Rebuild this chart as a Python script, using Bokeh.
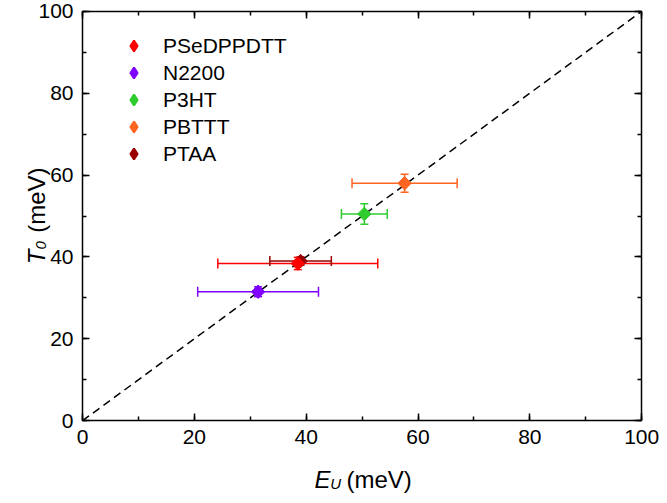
import math
from bokeh.plotting import figure
from bokeh.models import (Range1d, LinearAxis, SingleIntervalTicker, Whisker, TeeHead,
                          ColumnDataSource, Legend, LegendItem, CustomJSTickFormatter, Label)
from bokeh.embed import file_html
from bokeh.resources import INLINE

# ---- data ----
names = ["PSeDPPDTT", "N2200", "P3HT", "PBTTT", "PTAA"]
eu = [38.5, 31.4, 50.4, 57.6, 39.0]
eu_err = [14.3, 10.8, 4.1, 9.4, 5.5]
t0 = [38.4, 31.5, 50.5, 58.0, 39.0]
t0_err = [1.5, 1.2, 2.5, 2.2, 1.0]
colors = ["#FF0000", "#7F00FF", "#2ECC2E", "#FF6420", "#990000"]
x_limits = [0, 100]
y_limits = [0, 100]
tick_step = 20

FONT = "Liberation Sans"

# ---- layout (pixels) ----
CW, CH = 659, 495                       # canvas
FL, FR, FT, FB = 82.0, 641.2, 10.8, 420.2   # where the 0..100 box sits
sx = (FR - FL) / (x_limits[1] - x_limits[0])
sy = (FB - FT) / (y_limits[1] - y_limits[0])
x_range = Range1d(x_limits[0] - FL / sx, x_limits[1] + (CW - FR) / sx)
y_range = Range1d(y_limits[0] - (CH - FB) / sy, y_limits[1] + FT / sy)

p = figure(width=CW, height=CH, x_range=x_range, y_range=y_range,
           output_backend="svg", toolbar_location=None,
           x_axis_location=None, y_axis_location=None, min_border=0)
p.grid.visible = False
p.outline_line_color = None
p.background_fill_color = "white"
p.border_fill_color = "white"

blank = CustomJSTickFormatter(code="return ''")
axes = [
    (LinearAxis(fixed_location=y_limits[0], bounds=tuple(x_limits)), "below"),
    (LinearAxis(fixed_location=x_limits[0], bounds=tuple(y_limits)), "left"),
    (LinearAxis(fixed_location=y_limits[1], bounds=tuple(x_limits), formatter=blank), "above"),
    (LinearAxis(fixed_location=x_limits[1], bounds=tuple(y_limits), formatter=blank), "right"),
]
for ax, side in axes:
    ax.ticker = SingleIntervalTicker(interval=tick_step, num_minor_ticks=2)
    ax.major_tick_in = 7
    ax.major_tick_out = 0
    ax.minor_tick_in = 4
    ax.minor_tick_out = 0
    ax.axis_line_width = 1.5
    ax.axis_line_color = "black"
    ax.major_tick_line_width = 1.5
    ax.minor_tick_line_width = 1.5
    ax.major_tick_line_color = "black"
    ax.minor_tick_line_color = "black"
    ax.major_label_text_font = FONT
    ax.major_label_text_font_size = "21px"
    ax.major_label_text_color = "black"
    ax.major_label_standoff = 9
    p.add_layout(ax, side)

# diagonal reference line y = x
p.line(x=x_limits, y=y_limits, line_color="black", line_width=1.5, line_dash="8 5")

# error bars
for i in range(len(names)):
    src = ColumnDataSource(dict(base=[t0[i]], lower=[eu[i] - eu_err[i]], upper=[eu[i] + eu_err[i]]))
    p.add_layout(Whisker(source=src, base="base", lower="lower", upper="upper", dimension="width",
                         line_color=colors[i], line_width=1.5,
                         upper_head=TeeHead(size=10, line_color=colors[i], line_width=1.5),
                         lower_head=TeeHead(size=10, line_color=colors[i], line_width=1.5)))
    src2 = ColumnDataSource(dict(base=[eu[i]], lower=[t0[i] - t0_err[i]], upper=[t0[i] + t0_err[i]]))
    p.add_layout(Whisker(source=src2, base="base", lower="lower", upper="upper", dimension="height",
                         line_color=colors[i], line_width=1.5,
                         upper_head=TeeHead(size=8, line_color=colors[i], line_width=1.5),
                         lower_head=TeeHead(size=8, line_color=colors[i], line_width=1.5)))

# markers (red drawn last so it sits on top); legend uses diamond-shaped twins
legend_r = {}
for i in [4, 1, 2, 3, 0]:
    p.scatter(x=[eu[i]], y=[t0[i]], marker="square", angle=math.pi / 4, size=9.5,
              fill_color=colors[i], line_color=colors[i], line_width=1)
    legend_r[i] = p.scatter(x=[eu[i]], y=[t0[i]], marker="diamond", size=12,
                            fill_color=colors[i], line_color=colors[i], line_width=2,
                            visible=False)

legend = Legend(items=[LegendItem(label=names[i], renderers=[legend_r[i]]) for i in range(len(names))],
                location=(120, 328), border_line_color=None, background_fill_alpha=0,
                padding=0, margin=0, spacing=0, glyph_width=27, glyph_height=27,
                label_standoff=16, label_text_font=FONT, label_text_font_size="21px",
                label_text_color="black", label_height=20)
p.add_layout(legend)

# axis titles (italic symbol, italic subscript, upright unit)
def lab(x, y, text, size, italic=False, angle=0.0):
    p.add_layout(Label(x=x, y=y, text=text, text_font=FONT, text_font_size=size,
                       text_font_style="italic" if italic else "normal", text_color="black",
                       angle=angle, text_align="left", text_baseline="alphabetic"))

lab(41.5, -14.3, "E", "24px", italic=True)
lab(44.3, -15.3, "U", "15px", italic=True)
lab(47.2, -14.3, "(meV)", "24px")

lab(-8.3, 38.2, "T", "24px", italic=True, angle=math.pi / 2)
lab(-7.5, 41.8, "0", "15px", italic=True, angle=math.pi / 2)
lab(-8.3, 45.9, "(meV)", "24px", angle=math.pi / 2)

open("out.html", "w").write(file_html(p, INLINE))
